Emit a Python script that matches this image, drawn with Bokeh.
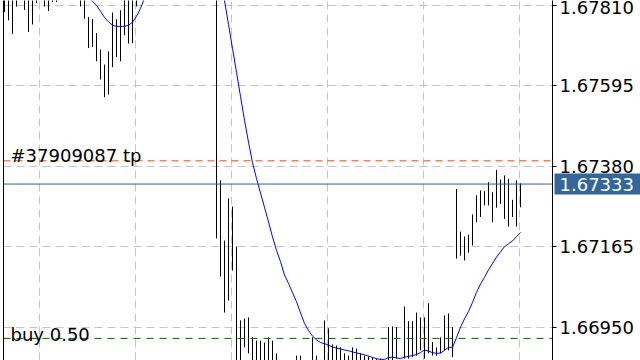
from bokeh.plotting import figure
from bokeh.models import (ColumnDataSource, Range1d, LinearAxis, FixedTicker, Grid,
                          Span, Label, PrintfTickFormatter)
from bokeh.core.properties import value
from bokeh.embed import file_html
from bokeh.resources import INLINE

# ---------------- data ----------------
bar_high = [
    1.67860, 1.67835, 1.67845, 1.67870, 1.67880, 1.67850, 1.67830, 1.67840, 1.67860, 1.67870,
    1.67855, 1.67850, 1.67865, 1.67870, 1.67885, 1.67890, 1.67880, 1.67875, 1.67865, 1.67850,
    1.67830, 1.67779, 1.67774, 1.67736, 1.67692, 1.67652, 1.67687, 1.67791, 1.67773, 1.67797,
    1.67840, 1.67835, 1.67830, 1.67860, 1.67905, 1.67935, 1.67960, 1.67985, 1.67990, 1.67995,
    1.68005, 1.68015, 1.68000, 1.67995, 1.67990, 1.68000, 1.68010, 1.68005, 1.67995, 1.67985,
    1.67980, 1.67975, 1.67965, 1.67960, 1.67343, 1.67182, 1.67295, 1.67273, 1.67166, 1.66969,
    1.66974, 1.66977, 1.66924, 1.66915, 1.66915, 1.66910, 1.66924, 1.66915, 1.66881, 1.66855,
    1.66850, 1.66845, 1.66850, 1.66875, 1.66875, 1.66858, 1.66855, 1.66924, 1.66875, 1.66858,
    1.66969, 1.66948, 1.66905, 1.66902, 1.66897, 1.66881, 1.66875, 1.66897, 1.66894, 1.66881,
    1.66875, 1.66873, 1.66870, 1.66867, 1.66867, 1.66858, 1.66951, 1.66953, 1.66951, 1.66858,
    1.67006, 1.66967, 1.66967, 1.66990, 1.66977, 1.66977, 1.67015, 1.66911, 1.66897, 1.66924,
    1.66982, 1.66988, 1.66951, 1.67320, 1.67206, 1.67193, 1.67198, 1.67252, 1.67303, 1.67316,
    1.67314, 1.67338, 1.67311, 1.67371, 1.67345, 1.67356, 1.67347, 1.67291, 1.67343, 1.67335,
]
bar_low = [
    1.67792, 1.67770, 1.67734, 1.67807, 1.67830, 1.67798, 1.67739, 1.67759, 1.67816, 1.67828,
    1.67807, 1.67795, 1.67819, 1.67819, 1.67835, 1.67840, 1.67838, 1.67832, 1.67828, 1.67807,
    1.67774, 1.67696, 1.67699, 1.67661, 1.67612, 1.67565, 1.67572, 1.67645, 1.67672, 1.67661,
    1.67730, 1.67708, 1.67709, 1.67807, 1.67840, 1.67870, 1.67900, 1.67920, 1.67930, 1.67925,
    1.67940, 1.67950, 1.67945, 1.67935, 1.67930, 1.67940, 1.67950, 1.67945, 1.67935, 1.67930,
    1.67920, 1.67910, 1.67905, 1.67188, 1.67086, 1.66990, 1.67022, 1.67102, 1.66840, 1.66830,
    1.66897, 1.66881, 1.66845, 1.66840, 1.66835, 1.66838, 1.66842, 1.66830, 1.66820, 1.66800,
    1.66790, 1.66785, 1.66795, 1.66805, 1.66810, 1.66800, 1.66805, 1.66820, 1.66815, 1.66805,
    1.66830, 1.66835, 1.66840, 1.66838, 1.66835, 1.66830, 1.66825, 1.66830, 1.66828, 1.66825,
    1.66820, 1.66818, 1.66815, 1.66815, 1.66812, 1.66810, 1.66850, 1.66852, 1.66867, 1.66815,
    1.66867, 1.66867, 1.66871, 1.66875, 1.66889, 1.66867, 1.66881, 1.66875, 1.66875, 1.66881,
    1.66889, 1.66889, 1.66871, 1.67134, 1.67142, 1.67129, 1.67150, 1.67169, 1.67231, 1.67245,
    1.67276, 1.67276, 1.67231, 1.67270, 1.67280, 1.67240, 1.67220, 1.67245, 1.67220, 1.67271,
]
ma_values = [
    1.67882, 1.67881, 1.67880, 1.67880, 1.67879, 1.67878, 1.67878, 1.67877, 1.67876, 1.67876,
    1.67875, 1.67874, 1.67874, 1.67873, 1.67872, 1.67870, 1.67867, 1.67863, 1.67858, 1.67851,
    1.67843, 1.67833, 1.67821, 1.67810, 1.67794, 1.67778, 1.67766, 1.67757, 1.67754, 1.67754,
    1.67754, 1.67757, 1.67765, 1.67781, 1.67802, 1.67829, 1.67858, 1.67884, 1.67905, 1.67922,
    1.67935, 1.67945, 1.67952, 1.67957, 1.67960, 1.67962, 1.67963, 1.67963, 1.67962, 1.67960,
    1.67958, 1.67955, 1.67950, 1.67935, 1.67885, 1.67823, 1.67759, 1.67695, 1.67631, 1.67567,
    1.67503, 1.67445, 1.67390, 1.67348, 1.67309, 1.67271, 1.67232, 1.67192, 1.67156, 1.67126,
    1.67090, 1.67068, 1.67043, 1.67019, 1.66989, 1.66961, 1.66942, 1.66927, 1.66917, 1.66910,
    1.66907, 1.66903, 1.66898, 1.66895, 1.66893, 1.66890, 1.66888, 1.66885, 1.66882, 1.66880,
    1.66877, 1.66874, 1.66870, 1.66867, 1.66865, 1.66865, 1.66870, 1.66871, 1.66869, 1.66867,
    1.66871, 1.66873, 1.66875, 1.66878, 1.66883, 1.66890, 1.66887, 1.66883, 1.66881, 1.66882,
    1.66889, 1.66897, 1.66897, 1.66923, 1.66951, 1.66973, 1.66993, 1.67017, 1.67044, 1.67066,
    1.67084, 1.67104, 1.67121, 1.67138, 1.67152, 1.67166, 1.67174, 1.67181, 1.67193, 1.67204,
]
bar_index = list(range(len(bar_high)))

price_ticks = [1.66950, 1.67165, 1.67380, 1.67595, 1.67810]
time_grid = [8.75, 32.75, 56.75, 80.75, 104.75, 128.75]

tp_price = 1.67395
tp_text = "#37909087 tp"
bid_price = 1.67333
buy_price = 1.66921
buy_text = "buy 0.50"

y_start, y_end = 1.66862, 1.67823
x_start, x_end = -0.25, 137.0

FONT = "DejaVu Sans"
FS = "18px"

# ---------------- figure ----------------
p = figure(width=640, height=360, output_backend="svg", toolbar_location=None,
           x_range=Range1d(x_start, x_end), y_range=Range1d(y_start, y_end),
           x_axis_location=None, y_axis_location=None,
           min_border_left=3, min_border_right=88, min_border_top=0, min_border_bottom=0,
           background_fill_color="white", border_fill_color="white")
p.outline_line_color = None
for g in list(p.grid):
    g.visible = False

# left frame line
left_axis = LinearAxis(ticker=FixedTicker(ticks=[]), major_label_text_font_size="0px",
                       major_tick_line_color=None, minor_tick_line_color=None,
                       major_label_standoff=0, major_tick_out=0, major_tick_in=0,
                       axis_line_color="black", axis_line_width=1)
p.add_layout(left_axis, "left")

# right price axis
right_axis = LinearAxis(ticker=FixedTicker(ticks=price_ticks),
                        formatter=PrintfTickFormatter(format="%.5f"),
                        major_label_text_font=FONT, major_label_text_font_size=FS,
                        major_label_text_color="black", major_label_standoff=3,
                        major_tick_out=4, major_tick_in=0, major_tick_line_color="black",
                        minor_tick_line_color=None, axis_line_color="black")
p.add_layout(right_axis, "right")

# grids
p.add_layout(Grid(dimension=0, ticker=FixedTicker(ticks=time_grid),
                  grid_line_color="#c4c4c4", grid_line_dash="8 5", grid_line_width=1))
p.add_layout(Grid(dimension=1, ticker=FixedTicker(ticks=price_ticks),
                  grid_line_color="#c4c4c4", grid_line_dash="8 5", grid_line_width=1))

# bars
src = ColumnDataSource(dict(k=bar_index, hi=bar_high, lo=bar_low, ma=ma_values))
p.segment(x0="k", y0="lo", x1="k", y1="hi", source=src, line_color="black", line_width=1)

# moving average
p.line(x="k", y="ma", source=src, line_color="#0000ff", line_width=1)

# order / price lines
p.add_layout(Span(location=tp_price, dimension="width", line_color="#ff4500",
                  line_dash="7 5", line_width=1))
p.add_layout(Span(location=bid_price, dimension="width", line_color="#2f6096",
                  line_width=1))
p.add_layout(Span(location=buy_price, dimension="width", line_color="#006400",
                  line_dash="7 6", line_width=1))

p.add_layout(Label(x=7, x_units="screen", y=tp_price, y_offset=5, text=tp_text,
                   text_font=FONT, text_font_size=FS, text_color="black",
                   text_baseline="alphabetic"))
p.add_layout(Label(x=7, x_units="screen", y=buy_price, y_offset=4, text=buy_text,
                   text_font=FONT, text_font_size=FS, text_color="black",
                   text_baseline="alphabetic"))

# current price box on the price scale (overlay level -> not clipped to frame)
bid_src = ColumnDataSource(dict(x=[x_end], y=[bid_price], t=[f"{bid_price:.5f}"]))
p.text(x="x", y="y", text="t", source=bid_src, x_offset=2,
       text_font=value(FONT), text_font_size=FS, text_color="white",
       text_align="left", text_baseline="middle",
       background_fill_color="#336699", background_fill_alpha=1.0,
       padding=dict(left=5, right=9, top=4, bottom=4), level="overlay")

open("out.html", "w").write(file_html(p, INLINE))
